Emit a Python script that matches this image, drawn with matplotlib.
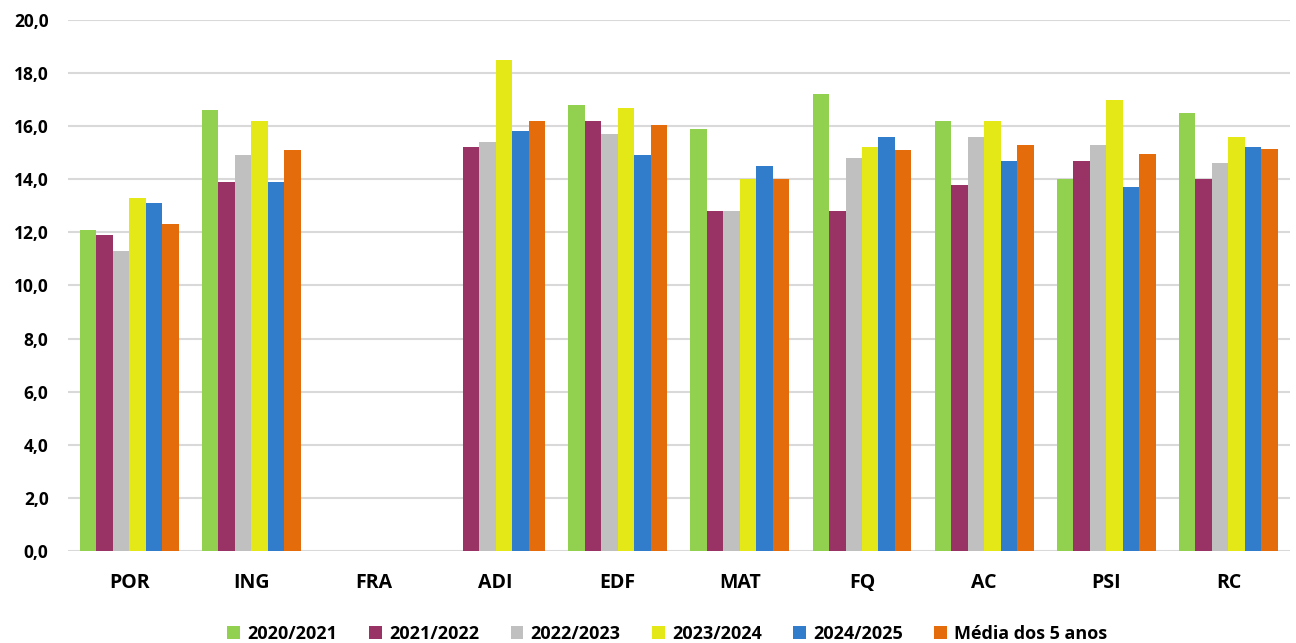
import matplotlib
matplotlib.use("Agg")
import matplotlib.pyplot as plt
import numpy as np
from matplotlib.ticker import FuncFormatter

categories = ["POR", "ING", "FRA", "ADI", "EDF", "MAT", "FQ", "AC", "PSI", "RC"]
series_names = ["2020/2021", "2021/2022", "2022/2023", "2023/2024", "2024/2025", "Média dos 5 anos"]
nan = np.nan
s2020 = [12.1, 16.6, nan, nan, 16.8, 15.9, 17.2, 16.2, 14.0, 16.5]
s2021 = [11.9, 13.9, nan, 15.2, 16.2, 12.8, 12.8, 13.8, 14.7, 14.0]
s2022 = [11.3, 14.9, nan, 15.4, 15.7, 12.8, 14.8, 15.6, 15.3, 14.6]
s2023 = [13.3, 16.2, nan, 18.5, 16.7, 14.0, 15.2, 16.2, 17.0, 15.6]
s2024 = [13.1, 13.9, nan, 15.8, 14.9, 14.5, 15.6, 14.7, 13.7, 15.2]
media = [12.3, 15.1, nan, 16.2, 16.05, 14.0, 15.1, 15.3, 14.95, 15.15]
colors = ["#92D050", "#993366", "#C0C0C0", "#E5E817", "#317DCB", "#E46C0A"]

data = [s2020, s2021, s2022, s2023, s2024, media]

plt.rcParams['font.family'] = ['Open Sans', 'DejaVu Sans']
fig = plt.figure(figsize=(12.96, 6.43), dpi=100)
ax = fig.add_axes([0.0525, 0.143, 0.9425, 0.826])

x = np.arange(len(categories))
w = 0.135
for i, (vals, name, c) in enumerate(zip(data, series_names, colors)):
    ax.bar(x + (i - 2.5) * w, vals, width=w, color=c, label=name, zorder=3)

ax.set_xlim(-0.5, len(categories) - 0.5)
ax.set_ylim(0, 20)
ax.set_yticks(np.arange(0, 20.1, 2))
ax.yaxis.set_major_formatter(FuncFormatter(lambda v, p: f"{v:.1f}".replace(".", ",")))
ax.set_xticks(x)
ax.set_xticklabels(categories, fontsize=14, fontweight='bold')
for lab in ax.get_yticklabels():
    lab.set_fontweight('bold')
    lab.set_fontsize(12.5)
ax.tick_params(axis='both', length=0)
ax.tick_params(axis='x', pad=16)
ax.tick_params(axis='y', pad=14)
ax.grid(axis='y', color='#D9D9D9', linewidth=1.5, zorder=0)
for s in ax.spines.values():
    s.set_visible(False)

leg = fig.legend(loc='lower center', bbox_to_anchor=(0.515, -0.025), ncol=6, frameon=False,
                 handlelength=0.7, handleheight=0.8, handletextpad=0.4, columnspacing=1.75,
                 prop={'weight': 'bold', 'size': 13})

fig.savefig("out.png", dpi=100)
